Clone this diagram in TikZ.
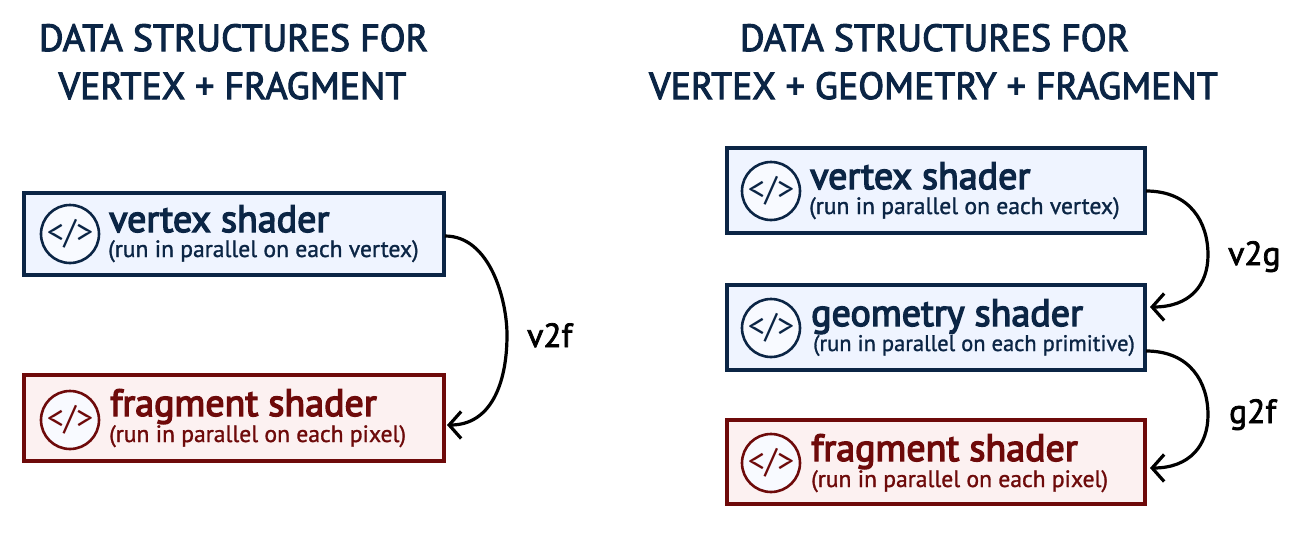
\documentclass[tikz,border=0pt]{standalone}
\usepackage{fontspec}
\setmainfont{PT Sans}
\newfontfamily\medfont[FakeBold=2.8]{PT Sans}
\newfontfamily\ttlfont[FakeBold=3.6]{PT Sans}
\newfontfamily\semifont[FakeBold=1.2]{PT Sans}
\newfontfamily\lblfont[FakeBold=2.2]{PT Sans}
\usetikzlibrary{arrows.meta}
\definecolor{navy}{HTML}{0B2545}
\definecolor{maroon}{HTML}{6E0A0A}
\definecolor{bluefill}{HTML}{EFF4FF}
\definecolor{redfill}{HTML}{FCF1F1}
\definecolor{iconfill}{HTML}{F8FAFF}
\tikzset{
  x=1pt,y=-1pt,
  vbox/.style={draw=navy,fill=bluefill,line width=4pt,inner sep=0pt,anchor=north west},
  fbox/.style={draw=maroon,fill=redfill,line width=4pt,inner sep=0pt,anchor=north west},
  icon/.style={circle,draw,line width=2.6pt,minimum size=58pt,inner sep=0pt,fill=iconfill,font=\fontsize{34}{34}\selectfont},
  head/.style={font=\medfont\fontsize{37.8}{37.8}\selectfont,text=navy,anchor=base},
  ttl/.style={font=\ttlfont\fontsize{38}{38}\selectfont,anchor=base west,inner sep=0pt},
  sub/.style={font=\semifont\fontsize{23.6}{23.6}\selectfont,anchor=base west,inner sep=0pt},
  subn/.style={font=\semifont\fontsize{22.5}{22.5}\selectfont,anchor=base west,inner sep=0pt},
  lbl/.style={font=\lblfont\fontsize{33.5}{33.5}\selectfont,text=black,anchor=base west,inner sep=0pt},
  conn/.style={draw=black,line width=3.2pt,-{Straight Barb[length=12pt,width=27pt,line width=3.2pt]}},
}
\begin{document}
\begin{tikzpicture}
\useasboundingbox (0,0) rectangle (1302,554);
\node[head] (t1a) at (233.5,51) {DATA STRUCTURES FOR};
\node[head] (t1b) at (232.5,99) {VERTEX + FRAGMENT};
\node[head] (t2a) at (934.5,51) {DATA STRUCTURES FOR};
\node[head] (t2b) at (933.5,99) {VERTEX + GEOMETRY + FRAGMENT};
% left
\node[vbox,minimum width=419.5pt,minimum height=82pt] (lv) at (22,191) {};
\node[fbox,minimum width=419.5pt,minimum height=85.5pt] (lf) at (22,373) {};
\node[icon,draw=navy,text=navy] (lvi) at (70,234) {</>};
\node[icon,draw=maroon,text=maroon] (lfi) at (70,420) {</>};
\node[ttl,text=navy] (lvt) at (109,232) {vertex shader};
\node[sub,text=navy] (lvs) at (108,257) {(run in parallel on each vertex)};
\node[ttl,text=maroon] (lft) at (110,416) {fragment shader};
\node[sub,text=maroon] (lfs) at (109,442) {(run in parallel on each pixel)};
% right
\node[vbox,minimum width=417.5pt,minimum height=85pt] (rv) at (725,146) {};
\node[vbox,minimum width=417.5pt,minimum height=85pt] (rg) at (725,283) {};
\node[fbox,minimum width=417.5pt,minimum height=84pt] (rf) at (725,418) {};
\node[icon,draw=navy,text=navy] (rvi) at (771,191) {</>};
\node[icon,draw=navy,text=navy] (rgi) at (771,328) {</>};
\node[icon,draw=maroon,text=maroon] (rfi) at (771,463) {</>};
\node[ttl,text=navy] (rvt) at (810,189) {vertex shader};
\node[sub,text=navy] (rvs) at (809,214) {(run in parallel on each vertex)};
\node[ttl,text=navy] (rgt) at (811,326) {geometry shader};
\node[subn,text=navy] (rgs) at (813,351) {(run in parallel on each primitive)};
\node[ttl,text=maroon] (rft) at (811,461) {fragment shader};
\node[sub,text=maroon] (rfs) at (811,487) {(run in parallel on each pixel)};
% connectors
\coordinate (a1) at (445,236); \coordinate (a2) at (447,425);
\draw[conn] (a1) .. controls (490,236) and (507,300) .. (507,335) .. controls (507,385) and (490,425) .. (a2);
\coordinate (b1) at (1146,191); \coordinate (b2) at (1150,307);
\draw[conn] (b1) .. controls (1190,191) and (1208,222) .. (1208,255) .. controls (1208,285) and (1190,307) .. (b2);
\coordinate (c1) at (1146,351); \coordinate (c2) at (1150,468);
\draw[conn] (c1) .. controls (1190,351) and (1208,382) .. (1208,415) .. controls (1208,445) and (1190,468) .. (c2);
\node[lbl] (l1) at (527,347) {v2f};
\node[lbl] (l2) at (1228,265) {v2g};
\node[lbl] (l3) at (1229,423) {g2f};
\end{tikzpicture}
\end{document}
